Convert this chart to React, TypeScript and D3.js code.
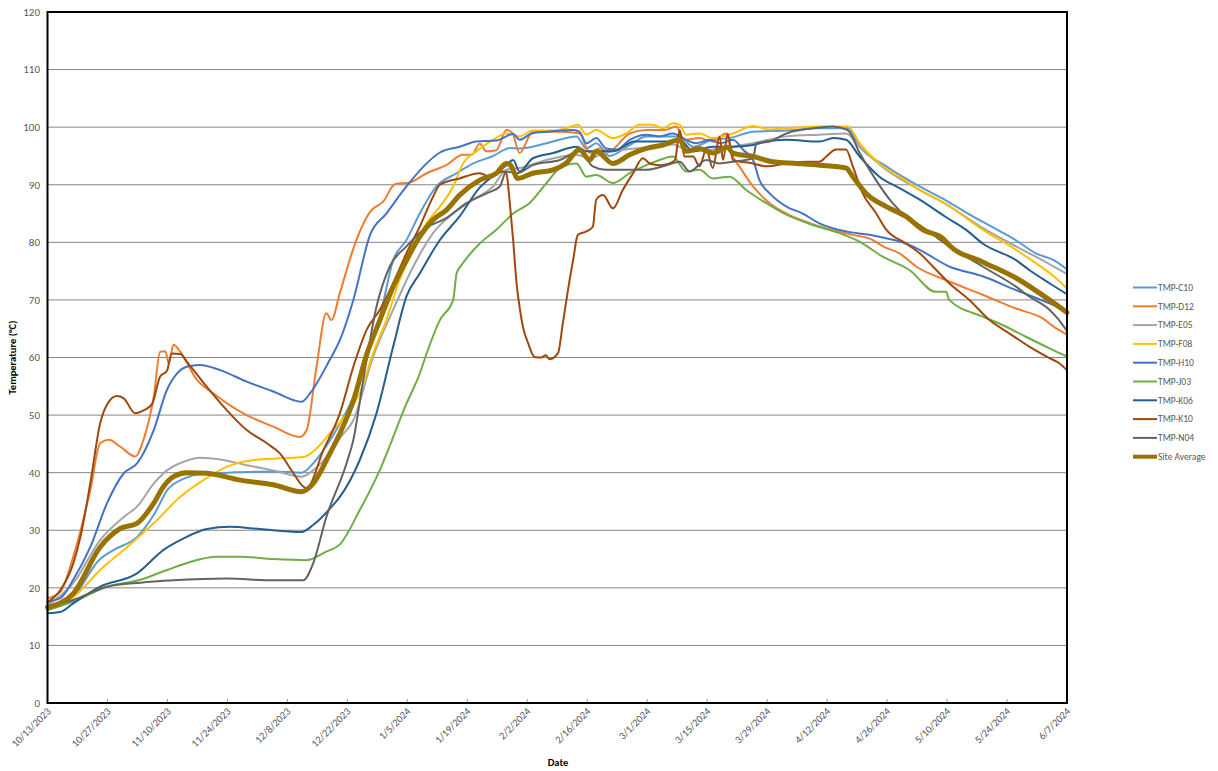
import React from "react";
import * as d3 from "d3";

// day offset from 10/13/2023, temperature in °C
const tmpC10: [number, number][] = [[0,16.4],[6,18.4],[12,24.8],[15.5,26.6],[21,28.9],[25,32.9],[28,37],[32,39],[36,39.8],[42,40],[53,40.2],[59.3,40],[62,41.6],[66,45.7],[68.3,48.6],[71.4,53.2],[74.5,60.7],[77.6,67.1],[80.7,76.9],[83.8,80.4],[86.9,85],[90.8,89.7],[95.5,92],[99.4,93.7],[104,95],[108,96.4],[110.2,96.3],[116.5,97.2],[123.5,98.4],[125.8,96.3],[128.1,97.2],[131.2,95],[135.9,96.9],[139.8,98.4],[147.6,98.4],[150.7,96.6],[155.3,97.8],[159.2,98.1],[164.7,99.2],[172.5,99.4],[180.2,99.8],[186.8,99.8],[189.6,96.6],[195.8,93.2],[203.6,89.7],[209.7,87.3],[216,84.5],[222.2,82],[226,80.4],[230.7,78.1],[234.9,76.9],[238,75.3]];
const tmpD12: [number, number][] = [[0,18.2],[3,19.3],[6,25.4],[10,37],[12.3,45.1],[14.3,45.7],[17,44.5],[20.5,42.8],[22.4,45.7],[24.8,53.2],[26.3,61],[27.5,61.1],[28.3,59],[29.4,62.2],[31,61],[34.9,56.1],[38.7,53.8],[42.6,51.7],[46.5,50],[52.7,48],[58.9,46.2],[60.5,47.4],[62.8,58.4],[65.1,67.7],[66.3,66.5],[68.25,71.2],[72.1,80.4],[75.3,85.3],[78.4,87.1],[81.1,90.1],[84.6,90.4],[88.5,92],[93.1,93.4],[97,95.2],[99,95.2],[100.9,97.1],[102.5,95.8],[104.8,96],[107.1,99.5],[108.5,99],[110.2,95.5],[113.3,99.2],[120,99.2],[124.2,98.9],[126.6,95.5],[128.9,96.3],[131,95.8],[135.9,98.9],[139.8,99.5],[144,99.5],[146.8,100.1],[148.5,97.8],[152.2,98.1],[155.3,97.5],[158.4,98.9],[160,94.9],[161.5,93.2],[164.7,89.7],[168.6,86.8],[172.5,85],[177,83.6],[181.8,82.4],[188,81.3],[192.7,80.4],[195,79.3],[198.9,78.1],[202.8,75.8],[210.5,73.2],[218.3,70.9],[226.1,68.5],[232.3,66.8],[235.4,65.1],[238,64]];
const tmpE05: [number, number][] = [[0,17],[6,20.8],[12.3,28.3],[17.8,32.3],[20.9,34.1],[24.8,38.1],[27.9,40.4],[31.8,41.9],[35.6,42.6],[40.3,42.3],[46.5,41.3],[52.7,40.4],[59.3,39.3],[62,40.4],[66,43.5],[68.25,46],[71.4,49.1],[76,60.1],[80.7,68.3],[85.4,75.8],[90,81.6],[94.7,85],[99.4,87.4],[104,89.7],[107.1,92.6],[110.2,92.9],[116.5,94.3],[123.5,95.2],[126.6,94.6],[130,95.5],[140,96.5],[146,97],[150,95.8],[157,96.3],[164.7,97.2],[172.5,98.4],[180.2,98.7],[186.4,98.9],[189.6,96.6],[195.8,92.6],[203.6,89.1],[210,86.5],[218.3,82.5],[226.1,79.3],[230.7,77.5],[234.9,75.8],[238,74.5]];
const tmpF08: [number, number][] = [[0,16.7],[6,18.4],[12.3,23.1],[18.6,27.1],[24.8,31.2],[31,35.8],[36.4,38.7],[41.8,41],[48.1,42.2],[54.3,42.5],[59.7,42.7],[62.8,44.2],[65.9,46.8],[70.6,50.9],[72.9,53.8],[76,60.7],[79.1,66.5],[82.2,73.5],[85.4,78.7],[88.5,83.3],[91.6,86.2],[94.7,89.7],[97,93.7],[100.1,95.8],[104,97.8],[107.1,98.9],[110.2,98.4],[113.3,99.4],[118,99.4],[121.1,99.8],[123.8,100.4],[125.8,98.7],[128.1,99.5],[132,98.1],[135.1,98.9],[138.2,100.4],[141.3,100.4],[143.7,99.8],[146,100.7],[147.6,100.4],[149.1,98.7],[152.2,98.9],[155.3,98.1],[160,98.9],[164.7,100.2],[168.6,99.6],[172.5,99.8],[180.2,100.1],[186.8,100.1],[189.6,97.2],[194.2,93.7],[198.9,91.4],[203.6,89.1],[209.7,86.7],[218.3,82.2],[226.1,78.7],[230.7,76.4],[234.9,74.1],[238,72]];
const tmpH10: [number, number][] = [[0,17.6],[3,18.2],[6,21.4],[10,27.1],[13.9,34.7],[17.8,39.9],[20.9,41.6],[24.8,47.4],[27.9,54.4],[30.2,57.2],[32.5,58.4],[35.6,58.7],[40.3,57.8],[46.5,55.8],[52.7,54.1],[59.3,52.3],[61.3,53.8],[65.9,59.6],[68.25,63],[71.4,70],[75.3,81.3],[79.1,85],[83.8,89.7],[87.7,93.1],[91.6,95.6],[96.2,96.6],[100.1,97.5],[104.8,97.7],[108.7,98.8],[110.2,97.8],[113,98.9],[116.5,99.2],[122.7,99.5],[124.2,99.2],[125.8,97.2],[128.1,98.1],[130.4,96.3],[132.8,96.1],[135.9,97.8],[139.8,98.7],[142.9,98.4],[146,98.9],[149.1,97.8],[151.4,97.2],[154.5,97.8],[157,97.2],[160,97.8],[162.5,96],[164.7,94.3],[166.2,90.8],[168.6,88.5],[172.5,86.2],[176.3,85],[180.2,83.3],[186.4,81.9],[191.9,81.3],[195.8,80.7],[200.4,79.8],[203.6,78.7],[210.5,75.8],[218.3,74.1],[226.1,71.7],[233.9,69.4],[238,68]];
const tmpJ03: [number, number][] = [[0,16.1],[6,17.6],[13.9,20.2],[21.7,21.4],[27.9,23.1],[33.3,24.5],[39.5,25.4],[45,25.4],[52.7,25],[60.5,24.8],[65.1,26.3],[68.2,27.5],[72.9,33.5],[77.6,40.5],[83.8,52],[86.9,57.2],[88.5,60.7],[91.6,66.5],[94.7,70],[95.5,74.6],[97,76.4],[100.9,79.8],[104.8,82.2],[108.7,85],[112.5,86.8],[116.5,90.3],[119.6,92.9],[123.5,93.7],[125.8,91.4],[128.1,91.7],[132,90.3],[135.9,92],[139.8,93.4],[142.9,94.3],[146,94.9],[149.1,92.3],[152.2,92.6],[155.3,91.1],[159.2,91.4],[163.1,89.1],[167.8,86.8],[172.5,84.8],[178.7,83],[184.9,81.6],[189.6,80.1],[195,77.5],[201.2,75.2],[207.4,71.4],[209.8,71.4],[210.5,70],[218.3,67.1],[222.2,65.9],[228.4,63.6],[233.9,61.6],[238,60.2]];
const tmpK06: [number, number][] = [[0,15.6],[3,15.8],[6,17.3],[12.3,20.2],[20.9,22.5],[27.1,26.6],[31.8,28.6],[37.2,30.2],[42.6,30.6],[49.6,30.2],[59.3,29.7],[62,30.9],[66.7,34.4],[68.25,35.8],[72.9,42.2],[76.8,50.3],[80.7,61.9],[83.8,70.6],[86.9,74.6],[91.6,80.4],[96.2,84.5],[100.9,89.5],[104,91.5],[107.1,93.4],[108.7,94.3],[110.2,92.3],[113.3,94.6],[118,95.5],[123.5,96.6],[125.8,95.8],[132,95.8],[137,97.5],[143.7,97.5],[147.6,97.8],[150.7,95.8],[155.3,96.6],[160,96.6],[164.7,96.9],[167.8,97.5],[172.5,97.8],[180.2,97.5],[183.5,98.1],[186.4,97.8],[189.6,94.9],[194.2,91.4],[198.9,89.4],[203.6,87.4],[209.7,84.4],[214.4,82.2],[218.3,79.8],[226.1,76.9],[229.2,75.2],[233.9,72.9],[238,71]];
const tmpK10: [number, number][] = [[0,17.5],[3,19.6],[6,24.2],[7.7,28.9],[10,38.2],[12.3,48.6],[14.3,52.3],[16.2,53.3],[17.8,52.9],[20.5,50.3],[22.4,50.8],[24.4,51.9],[26.3,56.7],[27.9,57.7],[29,60.7],[31,60.6],[32.5,59.3],[37.2,54.9],[41.8,50.9],[46.5,47.4],[51.2,45.1],[54.3,43.3],[57.4,39.9],[59.7,37.6],[60.5,37.3],[64.4,43.9],[68.25,50.3],[71.4,58.4],[74.5,64.8],[77.6,68.3],[80.7,72.9],[83.8,78.1],[86.9,82.7],[90,87.9],[91.6,90],[96.2,91.1],[100.9,92],[103.2,91.4],[106.3,92.3],[107.1,92],[108,86.2],[108.7,80.4],[109.5,72.9],[110.2,68.8],[111,65.3],[112.2,62.5],[113.7,60.1],[115.3,60],[116.3,60.4],[117.2,59.7],[119.2,60.8],[120.3,65.9],[121.5,71.7],[122.7,76.9],[123.8,81.3],[125.8,81.9],[127.3,82.7],[128.1,87.4],[129.7,88.2],[132,85.9],[134.3,89.1],[136.7,92],[139,94.6],[140.6,93.7],[143,93.4],[145.2,93.7],[146.5,94.3],[147.6,99.5],[148.7,94.9],[150.7,94.9],[152.2,93.2],[153.8,96.1],[155.3,92.9],[156.9,98.4],[157.7,94.3],[158.8,98.9],[160,94.3],[164.7,93.7],[167.8,93.2],[172.5,93.7],[177.1,94],[180.2,94],[181.8,94.9],[184.1,96.1],[186.4,96.1],[188,93.2],[190.3,88.5],[193.4,85.1],[195.8,82.2],[200.4,79.8],[203.6,78.1],[206.7,75.8],[210.5,72.9],[215.2,70],[219.9,66.5],[224.5,64.2],[229.2,61.9],[233.9,59.9],[236.2,59],[238,57.8]];
const tmpN04: [number, number][] = [[0,16.7],[6,17.9],[13.9,20.2],[21.7,20.9],[29.4,21.3],[41.8,21.6],[52.7,21.3],[59.7,21.3],[62,24.2],[65.1,32.3],[69.8,41.6],[71.4,45.7],[73.7,56.1],[76.8,68.8],[79.9,75.8],[83.8,79.3],[87.7,82.2],[93.1,84.2],[97.8,86.8],[102.5,88.5],[105.6,89.7],[107.1,92.3],[109.5,92],[113.3,93.4],[119.6,94.3],[124.2,95.8],[127.3,93.2],[130.4,92.6],[139.8,92.6],[143.7,93.2],[147.6,94],[149.9,92.3],[153.8,94.3],[156.9,93.7],[160,94],[164.7,94.6],[165.5,97.2],[168.6,97.5],[172.5,98.9],[178.7,99.8],[183.3,100.1],[186.8,99.5],[189.6,95.5],[193.4,90.8],[197.3,86.8],[200.4,84.5],[203.6,83],[210.5,79.3],[218.3,75.8],[226.1,72.3],[229.2,70.6],[233.9,68.3],[235.8,66.8],[238,64.6]];
const siteAverage: [number, number][] = [[0,16.6],[6,19],[12.3,27.1],[17,30.3],[20.9,31.2],[24.8,34.7],[27.1,37.6],[29.4,39.3],[32.5,40],[37.2,39.9],[45,38.7],[52.7,37.9],[59.3,36.7],[62,38.1],[65.9,43.3],[68.25,46.8],[71.4,52.5],[74.5,60.5],[77.6,66.5],[80.7,72.3],[83.8,76.9],[86.9,81],[90,83.9],[93.1,85.6],[96.2,88.2],[100.9,90.8],[104.8,92],[107.1,93.7],[108,93.5],[109.8,91.1],[113.3,92],[118,92.6],[121,93.7],[124.2,96.1],[126.6,94.3],[128.1,95.8],[132,93.7],[135.9,95.2],[139.8,96.3],[143.7,96.9],[147.6,97.8],[149.1,95.8],[152.2,96.3],[155.3,95.5],[158.8,96.5],[160,95.5],[164.7,94.9],[169.3,94],[175,93.7],[180.2,93.4],[186.4,92.9],[188,91.4],[191.1,88.5],[195.8,86.2],[200.4,84.5],[204.3,82.2],[209,80.7],[210.5,79.5],[218.3,76.6],[226.1,73.8],[233.9,70],[238,67.8]];

const seriesNames = ["TMP-C10", "TMP-D12", "TMP-E05", "TMP-F08", "TMP-H10", "TMP-J03", "TMP-K06", "TMP-K10", "TMP-N04", "Site Average"];
const seriesData = [tmpC10, tmpD12, tmpE05, tmpF08, tmpH10, tmpJ03, tmpK06, tmpK10, tmpN04, siteAverage];
const seriesColors = ["#5B9BD5", "#ED7D31", "#A5A5A5", "#FFC000", "#4472C4", "#70AD47", "#255E91", "#9E480E", "#636363", "#997300"];

const xTickLabels = ["10/13/2023", "10/27/2023", "11/10/2023", "11/24/2023", "12/8/2023", "12/22/2023", "1/5/2024", "1/19/2024", "2/2/2024", "2/16/2024", "3/1/2024", "3/15/2024", "3/29/2024", "4/12/2024", "4/26/2024", "5/10/2024", "5/24/2024", "6/7/2024"];
const yTicks = [0, 10, 20, 30, 40, 50, 60, 70, 80, 90, 100, 110, 120];

const START = Date.UTC(2023, 9, 13);
const DAY = 86400000;
const parseMDY = (s: string) => {
  const [m, d, y] = s.split("/").map(Number);
  return new Date(Date.UTC(y, m - 1, d));
};

const font = "Calibri, 'Liberation Sans', 'Open Sans', sans-serif";

export default function App() {
  const left = 47.5, right = 1067, top = 12, bottom = 703;

  const x = d3
    .scaleUtc()
    .domain([parseMDY(xTickLabels[0]), parseMDY(xTickLabels[xTickLabels.length - 1])])
    .range([left, right]);
  const y = d3.scaleLinear().domain([0, 120]).range([bottom, top]);

  const line = d3
    .line<[number, number]>()
    .x((d) => x(new Date(START + d[0] * DAY)))
    .y((d) => y(d[1]))
    .curve(d3.curveMonotoneX);

  return (
    <svg width={1218} height={771} style={{ position: "absolute", left: 0, top: 0, background: "#fff" }} fontFamily={font}>
      {/* gridlines */}
      {yTicks.map((t) => (
        <g key={t}>
          {t > 0 && t < 120 && (
            <line x1={left} x2={right} y1={y(t)} y2={y(t)} stroke="#858585" strokeWidth={1} />
          )}
          <text x={40} y={y(t)} dy="0.35em" textAnchor="end" fontSize={11} fill="#595959">
            {t}
          </text>
        </g>
      ))}

      {/* x ticks & labels */}
      {xTickLabels.map((lab) => {
        const px = x(parseMDY(lab));
        return (
          <g key={lab}>
            <line x1={px} x2={px} y1={bottom} y2={bottom - 4} stroke="#9a9a9a" />
            <text
              transform={`translate(${px + 4},${bottom + 9}) rotate(-45)`}
              textAnchor="end"
              fontSize={10.5}
              fill="#595959"
            >
              {lab}
            </text>
          </g>
        );
      })}

      {/* series */}
      {seriesData.map((s, i) => (
        <path
          key={seriesNames[i]}
          d={line(s) || ""}
          fill="none"
          stroke={seriesColors[i]}
          strokeWidth={i === 9 ? 5 : 2}
          strokeLinejoin="round"
          strokeLinecap="round"
        />
      ))}

      {/* plot border */}
      <rect x={left} y={top} width={right - left} height={bottom - top} fill="none" stroke="#000" strokeWidth={2} />

      {/* axis titles */}
      <text transform={`translate(16,${(top + bottom) / 2}) rotate(-90)`} textAnchor="middle" fontSize={10.5} fontWeight="bold" fill="#000">
        Temperature (°C)
      </text>
      <text x={558} y={766} textAnchor="middle" fontSize={10.5} fontWeight="bold" fill="#000">
        Date
      </text>

      {/* legend */}
      {seriesNames.map((n, i) => {
        const ly = 287.5 + i * 18.8;
        return (
          <g key={n}>
            <line x1={1133} x2={1157} y1={ly} y2={ly} stroke={seriesColors[i]} strokeWidth={i === 9 ? 4 : 2} />
            <text x={1158} y={ly} dy="0.35em" fontSize={9.5} fill="#595959">
              {n}
            </text>
          </g>
        );
      })}
    </svg>
  );
}
